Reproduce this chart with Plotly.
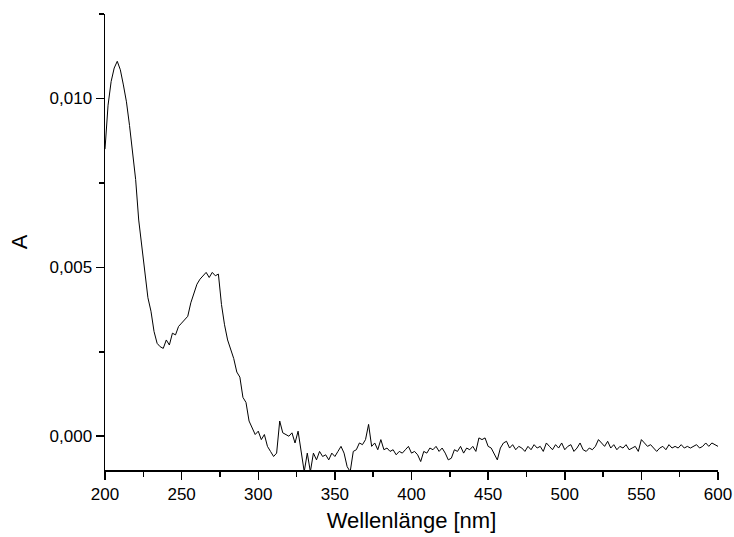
import plotly.graph_objects as go

wavelength = [
    200, 202, 204, 206, 208, 210, 212, 214, 216, 218, 220, 222, 224, 226, 228, 230, 232, 234, 236, 238,
    240, 242, 244, 246, 248, 250, 252, 254, 256, 258, 260, 262, 264, 266, 268, 270, 272, 274, 276, 278,
    280, 282, 284, 286, 288, 290, 292, 294, 296, 298, 300, 302, 304, 306, 308, 310, 312, 314, 316, 318,
    320, 322, 324, 326, 328, 330, 332, 334, 336, 338, 340, 342, 344, 346, 348, 350, 352, 354, 356, 358,
    360, 362, 364, 366, 368, 370, 372, 374, 376, 378, 380, 382, 384, 386, 388, 390, 392, 394, 396, 398,
    400, 402, 404, 406, 408, 410, 412, 414, 416, 418, 420, 422, 424, 426, 428, 430, 432, 434, 436, 438,
    440, 442, 444, 446, 448, 450, 452, 454, 456, 458, 460, 462, 464, 466, 468, 470, 472, 474, 476, 478,
    480, 482, 484, 486, 488, 490, 492, 494, 496, 498, 500, 502, 504, 506, 508, 510, 512, 514, 516, 518,
    520, 522, 524, 526, 528, 530, 532, 534, 536, 538, 540, 542, 544, 546, 548, 550, 552, 554, 556, 558,
    560, 562, 564, 566, 568, 570, 572, 574, 576, 578, 580, 582, 584, 586, 588, 590, 592, 594, 596, 598,
    600,
]

absorbance = [
    0.00850, 0.00980, 0.01050, 0.01090, 0.01110, 0.01085, 0.01040, 0.00990, 0.00920, 0.00840,
    0.00760, 0.00640, 0.00560, 0.00490, 0.00410, 0.00370, 0.00310, 0.00275, 0.00265, 0.00260,
    0.00285, 0.00270, 0.00305, 0.00300, 0.00325, 0.00335, 0.00345, 0.00355, 0.00395, 0.00420,
    0.00450, 0.00465, 0.00475, 0.00485, 0.00470, 0.00485, 0.00475, 0.00480, 0.00390, 0.00330,
    0.00285, 0.00255, 0.00230, 0.00190, 0.00175, 0.00115, 0.00100, 0.00045, 0.00025, 0.00005,
    0.00015, -0.00010, 0.00005, -0.00030, -0.00045, -0.00060, -0.00050, 0.00045, 0.00010, 0.00005,
    0.00000, 0.00010, -0.00020, 0.00015, -0.00040, -0.00105, -0.00050, -0.00105, -0.00050, -0.00070,
    -0.00045, -0.00060, -0.00055, -0.00070, -0.00050, -0.00060, -0.00045, -0.00030, -0.00050, -0.00090,
    -0.00105, -0.00045, -0.00040, -0.00020, -0.00025, -0.00010, 0.00035, -0.00030, -0.00020, -0.00040,
    -0.00010, -0.00040, -0.00035, -0.00045, -0.00040, -0.00055, -0.00045, -0.00050, -0.00040, -0.00030,
    -0.00050, -0.00045, -0.00055, -0.00075, -0.00045, -0.00050, -0.00035, -0.00040, -0.00030, -0.00045,
    -0.00035, -0.00050, -0.00070, -0.00065, -0.00040, -0.00045, -0.00030, -0.00050, -0.00035, -0.00040,
    -0.00030, -0.00045, -0.00005, -0.00010, -0.00005, -0.00030, -0.00035, -0.00055, -0.00070, -0.00035,
    -0.00020, -0.00015, -0.00035, -0.00025, -0.00040, -0.00030, -0.00035, -0.00045, -0.00030, -0.00040,
    -0.00025, -0.00035, -0.00030, -0.00045, -0.00020, -0.00030, -0.00040, -0.00025, -0.00035, -0.00020,
    -0.00040, -0.00030, -0.00025, -0.00045, -0.00035, -0.00020, -0.00040, -0.00045, -0.00035, -0.00040,
    -0.00030, -0.00010, -0.00020, -0.00030, -0.00015, -0.00035, -0.00025, -0.00040, -0.00030, -0.00035,
    -0.00025, -0.00040, -0.00035, -0.00030, -0.00045, -0.00010, -0.00020, -0.00030, -0.00025, -0.00035,
    -0.00045, -0.00035, -0.00030, -0.00040, -0.00025, -0.00035, -0.00030, -0.00035, -0.00025, -0.00035,
    -0.00030, -0.00035, -0.00030, -0.00025, -0.00035, -0.00030, -0.00020, -0.00030, -0.00020, -0.00025,
    -0.00030,
]

x_ticks = [200, 250, 300, 350, 400, 450, 500, 550, 600]
y_ticks = [0.000, 0.005, 0.010]

FONT = "Liberation Sans, Arial, sans-serif"

fig = go.Figure()
fig.add_trace(go.Scatter(
    x=wavelength, y=absorbance, mode="lines",
    line=dict(color="black", width=1),
    showlegend=False, hoverinfo="skip",
))

fig.update_layout(
    width=734, height=537,
    margin=dict(l=105, r=16, t=14, b=67),
    paper_bgcolor="white", plot_bgcolor="white",
    separators=",.",
    font=dict(family=FONT, size=17, color="black"),
    showlegend=False,
)

fig.update_xaxes(
    range=[200, 600],
    tickvals=x_ticks,
    showgrid=False, zeroline=False,
    showline=True, linecolor="black", linewidth=1.5,
    ticks="outside", ticklen=8, tickwidth=1.5, tickcolor="black",
    minor=dict(ticks="outside", ticklen=5, tickwidth=1.5, tickcolor="black", dtick=25, tick0=200, showgrid=False),
    tickfont=dict(size=17, family=FONT),
    ticklabeloverflow="allow",
    title=dict(text="Wellenlänge [nm]", font=dict(size=22, family=FONT), standoff=9),
    automargin=False,
)

fig.update_yaxes(
    range=[-0.001, 0.0125],
    tickvals=y_ticks,
    tickformat=".3f",
    showgrid=False, zeroline=False,
    showline=True, linecolor="black", linewidth=1.5,
    ticks="outside", ticklen=8, tickwidth=1.5, tickcolor="black",
    minor=dict(ticks="outside", ticklen=5, tickwidth=1.5, tickcolor="black", dtick=0.0025, tick0=0, showgrid=False),
    tickfont=dict(size=17, family=FONT),
    title=dict(text="A", font=dict(size=22, family=FONT), standoff=16),
    automargin=False,
)

# remove the default 8px body margin so the 734x537 figure fills the window exactly
fig.write_html(
    "out.html",
    config={"displayModeBar": False, "staticPlot": True},
    post_script="document.body.style.margin='0px';",
)
